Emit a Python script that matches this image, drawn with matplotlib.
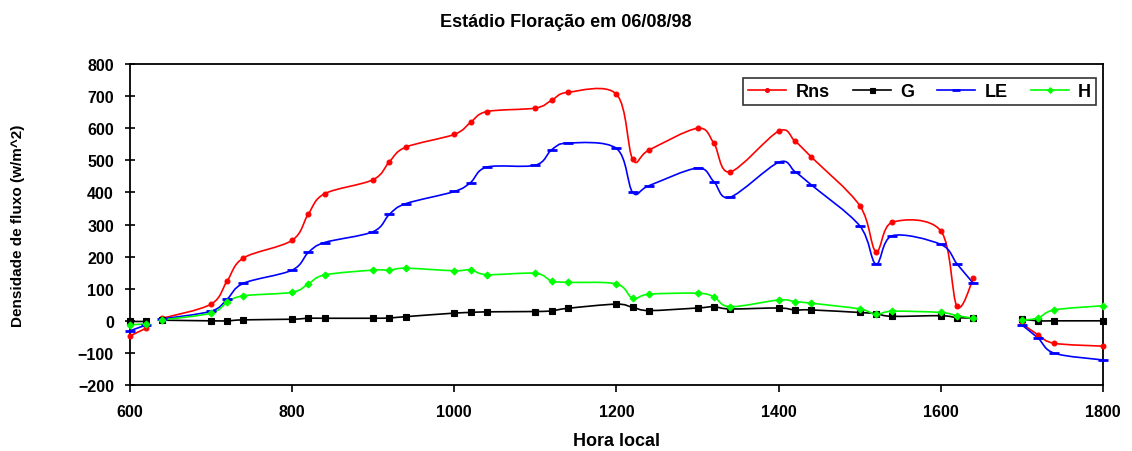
import numpy as np
import matplotlib
matplotlib.use("Agg")
import matplotlib.pyplot as plt
from matplotlib.path import Path
from matplotlib.patches import PathPatch
from matplotlib.lines import Line2D

plt.rcParams['font.family'] = ['Liberation Sans', 'DejaVu Sans']

# hora local (HHMM), three pieces with gaps between them
hora_a = [600, 620]
hora_b = [640, 700, 720, 740, 800, 820, 840, 900, 920, 940, 1000, 1020, 1040,
          1100, 1120, 1140, 1200, 1220, 1240, 1300, 1320, 1340, 1400, 1420,
          1440, 1500, 1520, 1540, 1600, 1620, 1640]
hora_c = [1700, 1720, 1740, 1800]

rns_a = [-47, -23]
rns_b = [8, 52, 125, 196, 251, 333, 396, 440, 496, 541, 581, 618, 652,
         663, 687, 712, 706, 503, 532, 600, 554, 464, 591, 560, 511, 359,
         216, 307, 280, 45, 132]
rns_c = [-8, -44, -70, -79]

g_a = [-2, -2]
g_b = [2, 0, 0, 3, 5, 8, 8, 8, 9, 13, 24, 26, 28, 29, 31, 39, 52, 42, 32,
       40, 44, 37, 40, 34, 34, 26, 22, 14, 16, 10, 9]
g_c = [5, 0, 0, 0]

le_a = [-31, -13]
le_b = [6, 30, 68, 117, 158, 213, 244, 278, 332, 365, 403, 431, 479, 485,
        533, 554, 537, 400, 421, 476, 434, 385, 494, 465, 424, 296, 177, 265,
        238, 177, 117]
le_c = [-13, -54, -101, -122]

h_a = [-12, -10]
h_b = [3, 24, 58, 78, 89, 115, 143, 158, 158, 164, 156, 159, 144, 148, 124,
       120, 115, 70, 83, 86, 75, 44, 65, 60, 55, 37, 20, 30, 26, 16, 8]
h_c = [2, 9, 34, 47]

series = [
    ("Rns", "#FF0000", "o", 3.5, [rns_a, rns_b, rns_c]),
    ("G", "#000000", "s", 4.5, [g_a, g_b, g_c]),
    ("LE", "#0000FF", "_", 7, [le_a, le_b, le_c]),
    ("H", "#00FF00", "D", 3.5, [h_a, h_b, h_c]),
]
horas = [hora_a, hora_b, hora_c]


def smooth_path(x, y):
    # Excel-like smoothed line: cubic bezier through the data points
    x = np.asarray(x, float)
    y = np.asarray(y, float)
    n = len(x)
    verts = [(x[0], y[0])]
    codes = [Path.MOVETO]
    for i in range(n - 1):
        p0 = max(i - 1, 0)
        p3 = min(i + 2, n - 1)
        c1 = (x[i] + (x[i + 1] - x[p0]) / 6, y[i] + (y[i + 1] - y[p0]) / 6)
        c2 = (x[i + 1] - (x[p3] - x[i]) / 6, y[i + 1] - (y[p3] - y[i]) / 6)
        verts += [c1, c2, (x[i + 1], y[i + 1])]
        codes += [Path.CURVE4] * 3
    return Path(verts, codes)


fig = plt.figure(figsize=(11.32, 4.52), dpi=100)
ax = fig.add_axes([0.1148, 0.146, 0.8596, 0.710])

handles = []
for name, col, mk, ms, parts in series:
    for hx, vy in zip(horas, parts):
        ax.add_patch(PathPatch(smooth_path(hx, vy), fill=False, edgecolor=col,
                               lw=1.2, transform=ax.transData))
        ax.plot(hx, vy, ls='none', marker=mk, color=col, ms=ms,
                mew=2 if mk == '_' else 0.8, clip_on=False, zorder=3)
    handles.append(Line2D([], [], color=col, lw=1.2, marker=mk, ms=ms * 0.8,
                          mew=2 if mk == '_' else 0.8, label=name))

ax.set_xlim(600, 1800)
ax.set_ylim(-200, 800)
ax.set_xticks(range(600, 1801, 200))
ax.set_yticks(range(-200, 801, 100))
ax.tick_params(axis='y', direction='inout', length=7, width=1.2, labelsize=11.5, pad=8)
ax.tick_params(axis='x', direction='out', length=5, width=1.2, labelsize=11.5, pad=9)
for lab in ax.get_xticklabels() + ax.get_yticklabels():
    lab.set_fontweight('bold')
for sp in ax.spines.values():
    sp.set_linewidth(1.3)

ax.set_xlabel("Hora local", fontsize=13, fontweight='bold', labelpad=9)
ax.set_ylabel("Densidade de fluxo (w/m^2)", fontsize=11, fontweight='bold', labelpad=38)
fig.suptitle("Estádio Floração em 06/08/98", fontsize=13, fontweight='bold', y=0.97)

leg = ax.legend(handles=handles, loc='upper right', bbox_to_anchor=(0.993, 0.958),
                ncol=4, frameon=True, fancybox=False,
                prop={'weight': 'bold', 'size': 13}, handlelength=2.1,
                columnspacing=1.3, borderpad=0.3, handletextpad=0.5,
                borderaxespad=0)
leg.get_frame().set_edgecolor('black')
leg.get_frame().set_linewidth(1.2)

fig.savefig("out.png", dpi=100)
